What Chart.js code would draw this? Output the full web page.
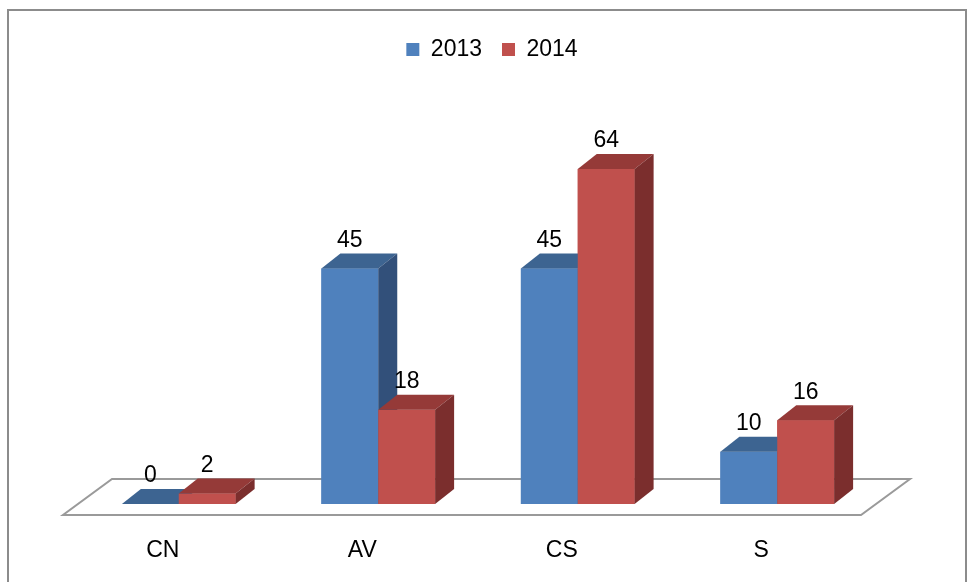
<!DOCTYPE html>
<html>
<head>
<meta charset="utf-8">
<script src="https://cdn.jsdelivr.net/npm/chart.js@4.4.1/dist/chart.umd.min.js"></script>
<style>
  html, body { margin: 0; padding: 0; background: #fff; }
  canvas { display: block; }
</style>
</head>
<body>
<canvas id="chart" width="967" height="582"></canvas>
<script>
// Data
const categories = ['CN', 'AV', 'CS', 'S'];
const values2013 = [0, 45, 45, 10];
const values2014 = [2, 18, 64, 16];
const seriesLabels = ['2013', '2014'];

const FONT = "'Liberation Sans', Arial, sans-serif";

// Face colours for the fake 3D look: front, top, side
const faces = [
  { front: '#4F81BD', top: '#3D6491', side: '#32507A' },
  { front: '#C0504D', top: '#953A38', side: '#7B2E2D' }
];
const DX = 19, DY = 15; // depth offset of the bars

// White background, outer frame, legend nudged right like the original
const framePlugin = {
  id: 'frame',
  afterLayout(chart) {
    chart.legend.left += 14;
    chart.legend.right += 14;
  },
  beforeDraw(chart) {
    const ctx = chart.ctx;
    ctx.save();
    ctx.fillStyle = '#fff';
    ctx.fillRect(0, 0, chart.width, chart.height);
    ctx.strokeStyle = '#8c8c8c';
    ctx.lineWidth = 2;
    ctx.strokeRect(8, 10, 958, 600);
    ctx.restore();
  }
};

// Floor parallelogram under the bars
const floorPlugin = {
  id: 'floor',
  beforeDatasetsDraw(chart) {
    const ctx = chart.ctx;
    const area = chart.chartArea;
    const base = chart.scales.y.getPixelForValue(0);
    ctx.save();
    ctx.beginPath();
    ctx.moveTo(area.left - 16, base + 11);
    ctx.lineTo(area.right - 16, base + 11);
    ctx.lineTo(area.right + 33, base - 25);
    ctx.lineTo(area.left + 33, base - 25);
    ctx.closePath();
    ctx.fillStyle = '#fff';
    ctx.fill();
    ctx.strokeStyle = '#9a9a9a';
    ctx.lineWidth = 2;
    ctx.stroke();
    ctx.restore();
  }
};

function poly(ctx, pts, color) {
  ctx.beginPath();
  ctx.moveTo(pts[0][0], pts[0][1]);
  for (let k = 1; k < pts.length; k++) ctx.lineTo(pts[k][0], pts[k][1]);
  ctx.closePath();
  ctx.fillStyle = color;
  ctx.fill();
}

// Redraw bars as boxes (front, top, side) plus value labels
const boxPlugin = {
  id: 'boxes',
  afterDatasetsDraw(chart) {
    const ctx = chart.ctx;
    const metas = [chart.getDatasetMeta(0), chart.getDatasetMeta(1)];
    ctx.save();
    for (let i = 0; i < categories.length; i++) {
      metas.forEach((meta, d) => {
        const el = meta.data[i];
        const l = el.x - el.width / 2;
        const r = el.x + el.width / 2;
        const t = el.y;
        const b = el.base;
        const c = faces[d];
        poly(ctx, [[l, t], [r, t], [r, b], [l, b]], c.front);
        poly(ctx, [[l, t], [l + DX, t - DY], [r + DX, t - DY], [r, t]], c.top);
        poly(ctx, [[r, t], [r + DX, t - DY], [r + DX, b - DY], [r, b]], c.side);
      });
    }
    ctx.fillStyle = '#000';
    ctx.font = '23px ' + FONT;
    ctx.textAlign = 'center';
    ctx.textBaseline = 'middle';
    metas.forEach((meta, d) => {
      const vals = d === 0 ? values2013 : values2014;
      meta.data.forEach((el, i) => {
        ctx.fillText(String(vals[i]), el.x, el.y - 28);
      });
    });
    ctx.restore();
  }
};

new Chart(document.getElementById('chart'), {
  type: 'bar',
  data: {
    labels: categories,
    datasets: [
      { label: seriesLabels[0], data: values2013, backgroundColor: faces[0].front },
      { label: seriesLabels[1], data: values2014, backgroundColor: faces[1].front }
    ]
  },
  options: {
    responsive: false,
    devicePixelRatio: 1,
    animation: false,
    layout: { padding: { left: 79, right: 90, top: 18, bottom: 0 } },
    datasets: { bar: { barPercentage: 1, categoryPercentage: 0.57 } },
    scales: {
      x: {
        grid: { display: false },
        border: { display: false },
        ticks: {
          color: '#000',
          font: { family: FONT, size: 23 },
          labelOffset: -16,
          padding: 25
        },
        afterFit(scale) { scale.height = 78; }
      },
      y: { display: false, min: 0, max: 82.7 }
    },
    plugins: {
      legend: {
        position: 'top',
        labels: {
          boxWidth: 13,
          boxHeight: 13,
          padding: 20,
          color: '#000',
          font: { family: FONT, size: 23 }
        }
      },
      tooltip: { enabled: false }
    }
  },
  plugins: [framePlugin, floorPlugin, boxPlugin]
});
</script>
</body>
</html>
